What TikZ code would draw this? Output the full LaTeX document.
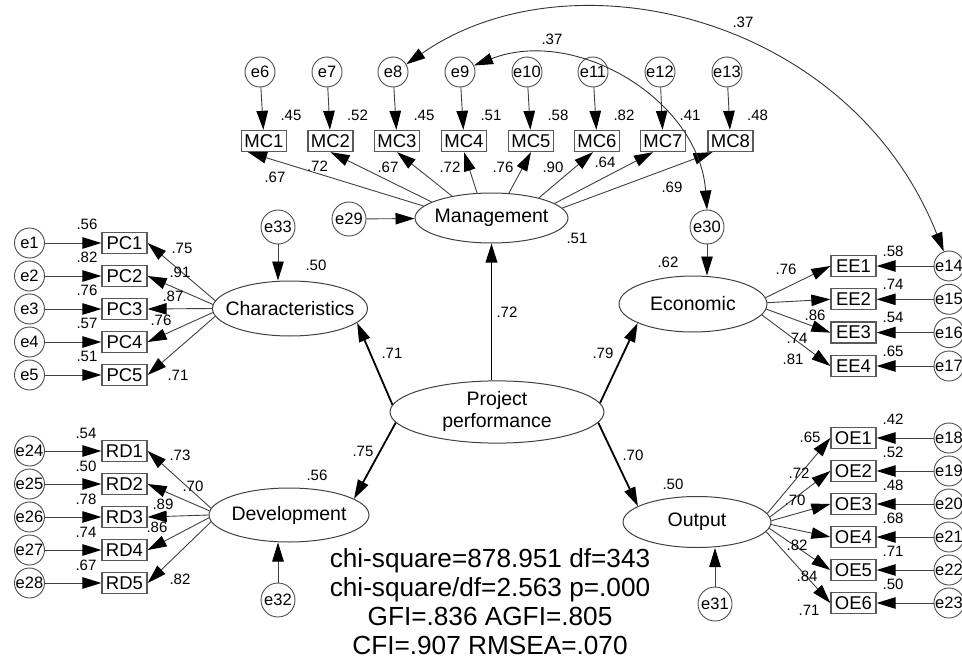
\documentclass[tikz,border=0pt]{standalone}
\usepackage{fontspec}
\setmainfont{Liberation Sans}
\usetikzlibrary{arrows.meta,shapes.geometric}
\newcommand{\zb}[1]{\makebox[0pt]{#1}}
\begin{document}
\begin{tikzpicture}[x=1pt,y=-1pt,
  >={Triangle[length=19pt,width=11.5pt,color=black]},
  every node/.style={font=\fontsize{16.5}{18}\selectfont},
  obs/.style={draw=black!65, line width=1.3pt, rectangle, minimum width=45pt, minimum height=21pt, inner sep=0pt, font=\fontsize{18.5}{20}\selectfont},
  err/.style={draw=black!70, line width=0.9pt, circle, minimum size=30pt, inner sep=0pt, font=\fontsize{16.5}{18}\selectfont},
  errL/.style={err, minimum size=34pt},
  lat/.style={draw=black!75, line width=1pt, ellipse, inner sep=0pt, font=\fontsize{19.5}{22}\selectfont},
  lbl/.style={inner sep=0pt, font=\fontsize{15}{16}\selectfont},
  sarr/.style={draw=black!75, line width=0.9pt, ->},
  barr/.style={draw=black, line width=1.8pt, ->},
  cov/.style={draw=black!80, line width=0.9pt, <->},
  stat/.style={anchor=base, inner sep=0pt, font=\fontsize{26.2}{29}\selectfont}
]
\useasboundingbox (0,0) rectangle (962,661);

% latent variables
\node[lat, minimum width=153pt, minimum height=50pt] (M) at (491.5,218) {\zb{Management}};
\node[lat, minimum width=155pt, minimum height=55pt] (C) at (290,308.5) {\zb{Characteristics}};
\node[lat, minimum width=160pt, minimum height=54pt] (D) at (289,515) {\zb{Development}};
\node[lat, minimum width=148pt, minimum height=56pt] (E) at (693,304) {\zb{Economic}};
\node[lat, minimum width=148pt, minimum height=51pt] (O) at (697,522) {\zb{Output}};
\node[lat, minimum width=214pt, minimum height=50pt] (P) at (497,412) {\zb{\begin{tabular}{@{}c@{}}Project\\performance\end{tabular}}};

% structural errors
\node[errL] (e29) at (349,219) {\zb{e29}};
\node[errL] (e33) at (278,227) {\zb{e33}};
\node[errL] (e32) at (278,600) {\zb{e32}};
\node[errL] (e30) at (707,227) {\zb{e30}};
\node[errL] (e31) at (715,604) {\zb{e31}};
\draw[sarr] (e29) -- (M);
\draw[sarr] (e33) -- (e33 |- C.north);
\draw[sarr] (e32) -- (e32 |- D.south);
\draw[sarr] (e30) -- (e30 |- E.north);
\draw[sarr] (e31) -- (e31 |- O.south);

% structural paths
\draw[barr] (M |- P.north) -- (M.south);
\draw[barr] (P.176) -- (C.-12);
\draw[barr] (P.186) -- (D.14);
\draw[barr] (P.5) -- (E.199);
\draw[barr] (P.354) -- (O.165);

% Management indicators
\foreach \i/\x/\rr/\n/\ex in {1/264/.45/6/260, 2/330.5/.52/7/327, 3/397/.45/8/393, 4/464/.51/9/460, 5/531/.58/10/527, 6/597/.82/11/593, 7/663/.41/12/660, 8/730.5/.48/13/727}{
  \node[obs] (MC\i) at (\x,141) {MC\i};
  \node[lbl] (rMC\i) at (\x+27,115) {\rr};
  \node[err] (e\n) at (\ex,72) {\zb{e\n}};
  \draw[sarr] (e\n) -- (MC\i);
}
\draw[sarr] (M.170) -- ([xshift=-16pt]MC1.south);
\draw[sarr] (M.165) -- (MC2.south);
\draw[sarr] (M.151) -- (MC3.south);
\draw[sarr] (M.120) -- (MC4.south);
\draw[sarr] (M.55) -- (MC5.south);
\draw[sarr] (M.23) -- ([xshift=-4pt]MC6.south);
\draw[sarr] (M.13) -- ([xshift=-10pt]MC7.south);
\draw[sarr] (M.8) -- ([xshift=-18pt]MC8.south);

% Characteristics indicators
\foreach \i/\y/\rr/\a in {1/243/.56/174, 2/276/.82/177, 3/309/.76/180, 4/342/.57/183, 5/375/.51/186}{
  \node[obs] (PC\i) at (124.5,\y) {PC\i};
  \node[err] (e\i) at (29.5,\y) {\zb{e\i}};
  \node[lbl] (rPC\i) at (87,\y-19) {\rr};
  \draw[sarr] (e\i) -- (PC\i);
  \draw[sarr] (C.\a) -- (PC\i.east);
}

% Development indicators
\foreach \i/\n/\y/\rr/\a in {1/24/451/.54/175, 2/25/484/.50/177.5, 3/26/517/.78/180, 4/27/550/.74/182.5, 5/28/583/.67/185}{
  \node[obs] (RD\i) at (124.5,\y) {RD\i};
  \node[err] (e\n) at (29.5,\y) {\zb{e\n}};
  \node[lbl] (rRD\i) at (86,\y-18) {\rr};
  \draw[sarr] (e\n) -- (RD\i);
  \draw[sarr] (D.\a) -- (RD\i.east);
}

% Economic indicators
\foreach \i/\n/\y/\rr/\a in {1/14/266/.58/5, 2/15/299.3/.74/1, 3/16/332.6/.54/-4, 4/17/366/.65/-9}{
  \node[obs] (EE\i) at (853.5,\y) {EE\i};
  \node[err] (e\n) at (949,\y) {\zb{e\n}};
  \node[lbl] (rEE\i) at (893,\y-15) {\rr};
  \draw[sarr] (e\n) -- (EE\i);
  \draw[sarr] (E.\a) -- (EE\i.west);
}

% Output indicators
\foreach \i/\n/\y/\rr/\a in {1/18/438/.42/7, 2/19/471/.52/4, 3/20/504/.48/1, 4/21/537/.68/-2, 5/22/570/.71/-5, 6/23/603/.50/-8}{
  \node[obs] (OE\i) at (853.5,\y) {OE\i};
  \node[err] (e\n) at (949,\y) {\zb{e\n}};
  \node[lbl] (rOE\i) at (893,\y-19) {\rr};
  \draw[sarr] (e\n) -- (OE\i);
  \draw[sarr] (O.\a) -- (OE\i.west);
}

% covariances
\draw[cov] (e8.30) .. controls (570,-50) and (850,15) .. (e14.110);
\draw[cov] (e9.25) .. controls (576,26) and (699,100) .. (e30.north);
\node[lbl] (c1) at (743,22) {.37};
\node[lbl] (c2) at (552,39) {.37};

% loadings labels
\node[lbl] (lMC1) at (275,177) {.67};
\node[lbl] (lMC2) at (317.5,166) {.72};
\node[lbl] (lMC3) at (388,167) {.67};
\node[lbl] (lMC4) at (450,167) {.72};
\node[lbl] (lMC5) at (503,167) {.76};
\node[lbl] (lMC6) at (553,167) {.90};
\node[lbl] (lMC7) at (605,162) {.64};
\node[lbl] (lMC8) at (672,187) {.69};
\node[lbl] (rM) at (577,238) {.51};

\node[lbl] (lPC1) at (182,248) {.75};
\node[lbl] (lPC2) at (180,272) {.91};
\node[lbl] (lPC3) at (173,296) {.87};
\node[lbl] (lPC4) at (161,320) {.76};
\node[lbl] (lPC5) at (178,375) {.71};
\node[lbl] (rC) at (316,265) {.50};

\node[lbl] (lRD1) at (180,455) {.73};
\node[lbl] (lRD2) at (193,486) {.70};
\node[lbl] (lRD3) at (163,504) {.89};
\node[lbl] (lRD4) at (157,527) {.86};
\node[lbl] (lRD5) at (180,579) {.82};
\node[lbl] (rD) at (317,475) {.56};

\node[lbl] (lEE1) at (786,269) {.76};
\node[lbl] (lEE2) at (815,315) {.86};
\node[lbl] (lEE3) at (797,338) {.74};
\node[lbl] (lEE4) at (793,359) {.81};
\node[lbl] (rE) at (668,262) {.62};

\node[lbl] (lOE1) at (810,437) {.65};
\node[lbl] (lOE2) at (799,473) {.72};
\node[lbl] (lOE3) at (795,500) {.70};
\node[lbl] (lOE4) at (797,545) {.82};
\node[lbl] (lOE5) at (807,576) {.84};
\node[lbl] (lOE6) at (809,610) {.71};
\node[lbl] (rO) at (673,484) {.50};

\node[lbl] (sM) at (507,312) {.72};
\node[lbl] (sC) at (392,353) {.71};
\node[lbl] (sE) at (603,353) {.79};
\node[lbl] (sD) at (363,451) {.75};
\node[lbl] (sO) at (633,455) {.70};

% fit statistics
\node[stat] (s1) at (490,567) {chi-square=878.951 df=343};
\node[stat] (s2) at (490,596) {chi-square/df=2.563 p=.000};
\node[stat] (s3) at (490,625) {GFI=.836 AGFI=.805};
\node[stat] (s4) at (490,654) {CFI=.907 RMSEA=.070};
\end{tikzpicture}
\end{document}
